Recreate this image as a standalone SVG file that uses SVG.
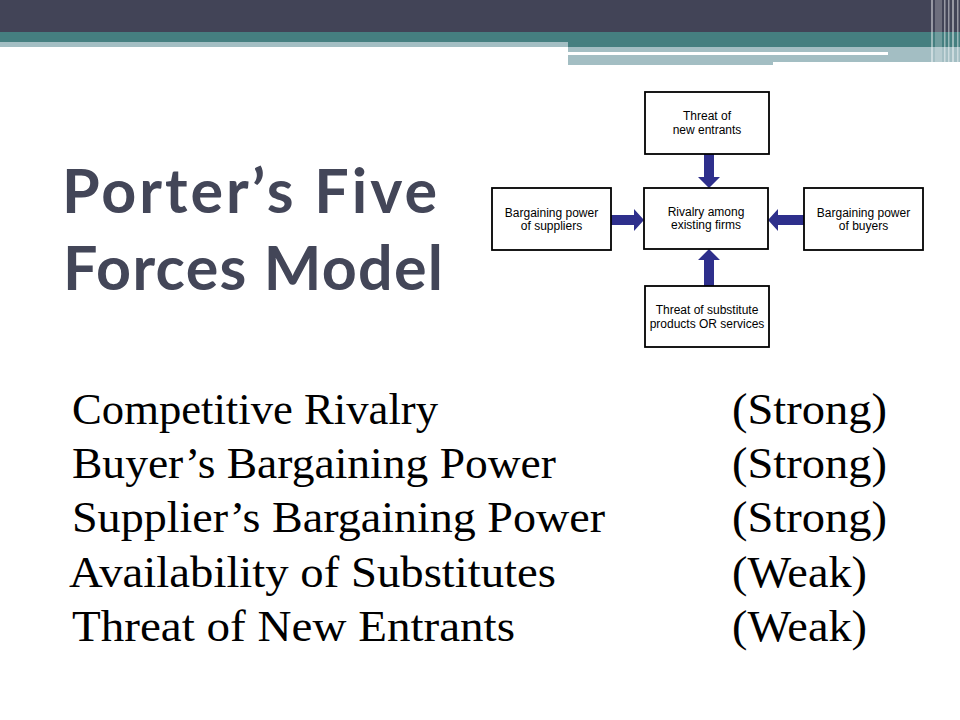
<svg xmlns="http://www.w3.org/2000/svg" width="960" height="720" viewBox="0 0 960 720">
<style>
.box{fill:#fff;stroke:#000;stroke-width:1.8}
.bt{font-family:"Liberation Sans",Arial,sans-serif;font-size:12px;fill:#000;text-anchor:middle}
.arr{fill:#2e2f8c}
.title{font-family:Lato,"Open Sans","DejaVu Sans",sans-serif;font-weight:700;font-size:61px;fill:#434658}
.body{font-family:"Liberation Serif","Times New Roman",serif;font-size:45px;fill:#000}
</style>
<rect width="960" height="720" fill="#fff"/>
<g id="header">
<rect x="0" y="0" width="960" height="32" fill="#424457"/>
<rect x="0" y="32" width="960" height="10" fill="#457f80"/>
<rect x="568" y="42" width="392" height="5" fill="#457f80"/>
<rect x="0" y="42" width="568" height="5" fill="#a3bec3"/>
<rect x="568" y="47" width="392" height="5" fill="#a3bec3"/>
<rect x="888" y="52" width="72" height="3" fill="#a3bec3"/>
<rect x="568" y="55" width="392" height="7" fill="#a3bec3"/>
<rect x="568" y="62" width="205" height="3" fill="#a3bec3"/>
<g fill="#ffffff" opacity="0.45">
<rect x="931" y="0" width="2" height="63"/>
<rect x="935" y="0" width="7" height="63" opacity="0.5"/>
<rect x="944" y="0" width="1.5" height="63"/>
<rect x="948" y="0" width="1.5" height="63"/>
<rect x="952" y="0" width="2" height="63"/>
<rect x="957" y="0" width="1.5" height="63"/>
</g>
</g>
<g id="title">
<text class="title" x="62" y="213" textLength="375" lengthAdjust="spacing">Porter’s Five</text>
<text class="title" x="63" y="290" textLength="380" lengthAdjust="spacing">Forces Model</text>
</g>
<g id="connectors">
<polygon class="arr" points="704,154 714,154 714,177 720,177 709,188 698,177 704,177"/>
<polygon class="arr" points="704,286 714,286 714,260 720,260 709,249 698,260 704,260"/>
<polygon class="arr" points="611,215 634,215 634,209 644,220 634,231 634,225 611,225"/>
<polygon class="arr" points="804,215 804,225 778,225 778,231 768,220 778,209 778,215"/>
</g>
<g id="node-new-entrants">
<rect class="box" x="645" y="92" width="124" height="62"/>
<text class="bt" x="707" y="120">Threat of</text>
<text class="bt" x="707" y="134">new entrants</text>
</g>
<g id="node-rivalry">
<rect class="box" x="644" y="188" width="124" height="61"/>
<text class="bt" x="706" y="216">Rivalry among</text>
<text class="bt" x="706" y="229">existing firms</text>
</g>
<g id="node-suppliers">
<rect class="box" x="492" y="188" width="119" height="62"/>
<text class="bt" x="551.5" y="217">Bargaining power</text>
<text class="bt" x="551.5" y="230">of suppliers</text>
</g>
<g id="node-buyers">
<rect class="box" x="804" y="188" width="119" height="62"/>
<text class="bt" x="863.5" y="217">Bargaining power</text>
<text class="bt" x="863.5" y="230">of buyers</text>
</g>
<g id="node-substitutes">
<rect class="box" x="645" y="286" width="124" height="61"/>
<text class="bt" x="707" y="314">Threat of substitute</text>
<text class="bt" x="707" y="328">products OR services</text>
</g>
<g id="body">
<text class="body" x="72" y="424" textLength="366" lengthAdjust="spacingAndGlyphs">Competitive Rivalry</text>
<text class="body" x="72" y="478" textLength="484" lengthAdjust="spacingAndGlyphs">Buyer’s Bargaining Power</text>
<text class="body" x="72" y="532" textLength="533" lengthAdjust="spacingAndGlyphs">Supplier’s Bargaining Power</text>
<text class="body" x="69" y="587" textLength="487" lengthAdjust="spacingAndGlyphs">Availability of Substitutes</text>
<text class="body" x="72" y="641" textLength="443" lengthAdjust="spacingAndGlyphs">Threat of New Entrants</text>
<text class="body" x="732" y="424" textLength="155" lengthAdjust="spacingAndGlyphs">(Strong)</text>
<text class="body" x="732" y="478" textLength="155" lengthAdjust="spacingAndGlyphs">(Strong)</text>
<text class="body" x="732" y="532" textLength="155" lengthAdjust="spacingAndGlyphs">(Strong)</text>
<text class="body" x="732" y="587" textLength="135" lengthAdjust="spacingAndGlyphs">(Weak)</text>
<text class="body" x="732" y="641" textLength="135" lengthAdjust="spacingAndGlyphs">(Weak)</text>
</g>
</svg>
